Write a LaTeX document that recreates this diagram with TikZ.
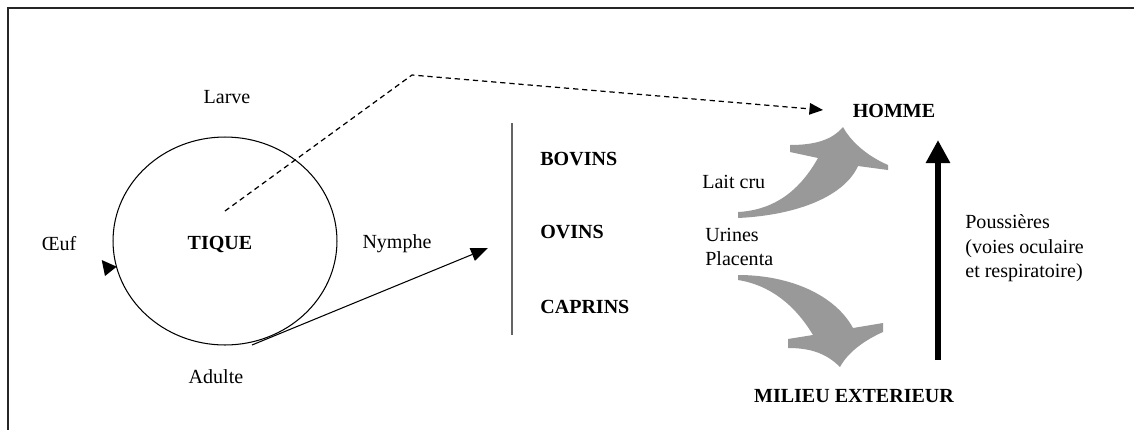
\documentclass[tikz,border=0pt]{standalone}
\usepackage{fontspec}
\setmainfont{Liberation Serif}
\usetikzlibrary{arrows.meta,shapes.geometric}
\definecolor{flowgray}{RGB}{153,153,153}
\definecolor{rulegray}{RGB}{100,100,100}
\begin{document}
\begin{tikzpicture}[x=0.02cm,y=-0.02cm,
  lbl/.style={font=\fontsize{11.4}{13}\selectfont, inner sep=0pt, anchor=base},
  lblw/.style={lbl, anchor=base west},
  blbl/.style={lbl, font=\fontsize{11.4}{13}\selectfont\bfseries},
  blblw/.style={blbl, anchor=base west},
  frameline/.style={line width=1.4pt, black!85},
  cycleline/.style={line width=0.6pt},
  dashline/.style={line width=0.7pt, dash pattern=on 3pt off 2.2pt,
    -{Triangle[length=0.27cm,width=0.23cm]}},
  solidarrow/.style={line width=0.6pt, -{Triangle[length=0.34cm,width=0.27cm]}},
  thickarrow/.style={line width=0.12cm, -{Triangle[length=0.46cm,width=0.46cm]}},
  flowshape/.style={fill=flowgray, draw=none}]

\useasboundingbox (0,0) rectangle (1134,430);
\fill[white] (0,0) rectangle (1134,430);

% page frame
\draw[frameline] (1134,8) -- (8,8) -- (8,430);

% tick life cycle
\node[draw, ellipse, cycleline, minimum width=4.48cm, minimum height=4.16cm, inner sep=0pt] (cycle) at (225,241) {};
\node[blbl] (tique) at (220,249) {TIQUE};
\node[lbl] (larve) at (227,103) {Larve};
\node[lbl] (oeuf) at (59,250) {Œuf};
\node[lbl] (nymphe) at (397,248) {Nymphe};
\node[lbl] (adulte) at (216,383) {Adulte};
\fill (101.7,260) -- (116.7,266.7) -- (105,276) -- cycle;

% hosts
\draw[line width=1.3pt, rulegray] (512,123) coordinate (bar1) -- (512,335) coordinate (bar2);
\node[blblw] (bovins) at (540,165) {BOVINS};
\node[blblw] (ovins) at (540,238) {OVINS};
\node[blblw] (caprins) at (540,313) {CAPRINS};

% right side
\node[blbl] (homme) at (894,117) {HOMME};
\node[blbl] (milieu) at (854,402) {MILIEU EXTERIEUR};
\node[lblw] (lait) at (702,188) {Lait cru};
\node[lblw] (urines) at (705,241) {Urines};
\node[lblw] (placenta) at (705,265) {Placenta};
\node[lblw] (pous1) at (965,228) {Poussières};
\node[lblw] (pous2) at (965,253) {(voies oculaire};
\node[lblw] (pous3) at (965,277) {et respiratoire)};

% connectors
\coordinate (dstart) at (225,211);
\coordinate (dbend) at (412,75);
\coordinate (dend) at (823,110);
\draw[dashline] (dstart) -- (dbend) -- (dend);

\coordinate (nstart) at (252,345);
\coordinate (nend) at (488,248);
\draw[solidarrow] (nstart) -- (nend);

\coordinate (vbot) at (938,360);
\coordinate (vtop) at (938,140);
\draw[thickarrow] (vbot) -- (vtop);

% curved block arrow towards HOMME
\fill[flowshape] (738,218) .. controls (800,215) and (845,195) .. (858,166)
  -- (888,170) -- (888,165) .. controls (865,155) and (850,140) .. (843,127)
  .. controls (832,140) and (815,145) .. (790,145) -- (790,152) -- (818,158)
  .. controls (800,190) and (775,210) .. (738,212) -- cycle;

% curved block arrow towards MILIEU EXTERIEUR
\fill[flowshape] (738,275) .. controls (790,275) and (835,295) .. (853,328)
  -- (883,323) -- (883,332) .. controls (865,340) and (848,352) .. (840,367)
  .. controls (825,352) and (808,348) .. (788,348) -- (788,339) -- (813,335)
  .. controls (795,305) and (770,285) .. (738,280) -- cycle;

\end{tikzpicture}
\end{document}
